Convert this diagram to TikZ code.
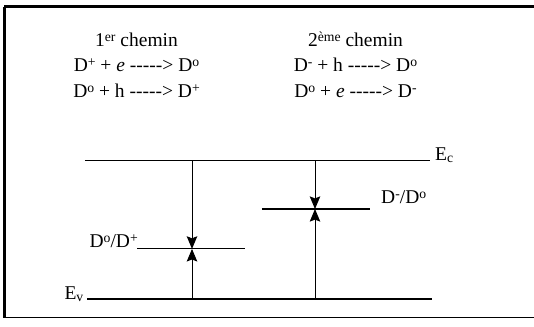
\documentclass[tikz,border=0pt]{standalone}
\usepackage{fontspec}
\setmainfont{Liberation Serif}
\usepackage{tikz}
\usetikzlibrary{arrows.meta, positioning}

% dashed reaction arrow, written so that no dash ligature is formed
\newcommand{\reac}{\mbox{-{}-{}-{}-{}->}}
% charge / ordinal exponent
\newcommand{\ex}[1]{\raisebox{0.55ex}{\fontsize{13}{13}\selectfont #1}}

\begin{document}
\begin{tikzpicture}[
		lvl/.style={line width=1.1pt},
		arr/.style={-{Stealth[length=12pt, width=10pt, inset=2pt]}, line width=0.9pt},
		lab/.style={inner sep=0pt, font=\fontsize{18.5}{22}\selectfont},
		txt/.style={lab, anchor=base}]
	\useasboundingbox (0,0) rectangle (17.8,10.867);
	% frame
	\draw[line width=2.2pt] (0.15,0.27) -- (0.15,10.65);
	\draw[line width=2.8pt] (0.15,10.65) -- (17.8,10.65);
	\draw[line width=0.8pt] (0.15,0.27) -- (17.8,0.27);
	% reactions
	\node[txt] (ch1) at (4.55,9.33) {1\ex{er} chemin};
	\node[txt] (r11) at (4.55,8.5) {D\ex{+} + \textit{e} \reac{} D\ex{o}};
	\node[txt] (r12) at (4.55,7.63) {D\ex{o} + h \reac{} D\ex{+}};
	\node[txt] (ch2) at (11.85,9.33) {2\ex{ème} chemin};
	\node[txt] (r21) at (11.85,8.5) {D\ex{-} + h \reac{} D\ex{o}};
	\node[txt] (r22) at (11.85,7.63) {D\ex{o} + \textit{e} \reac{} D\ex{-}};
	% bands and levels
	\coordinate (ecW) at (2.83,5.53);
	\coordinate (ecE) at (14.33,5.53);
	\coordinate (evW) at (2.9,0.9);
	\coordinate (evE) at (14.4,0.9);
	\coordinate (aW) at (4.57,2.57);
	\coordinate (aE) at (8.17,2.57);
	\coordinate (bW) at (8.73,3.9);
	\coordinate (bE) at (12.33,3.9);
	\draw[lvl] (ecW) -- (ecE);
	\draw[lvl] (evW) -- (evE);
	\draw[lvl] (aW) -- (aE);
	\draw[lvl] (bW) -- (bE);
	\node[lab, anchor=base west] (ec) at (14.5,5.53) {E\textsubscript{c}};
	\node[lab, anchor=base east] (ev) at (2.8,0.9) {E\textsubscript{v}};
	\node[lab, anchor=base east] (la) at (4.6,2.62) {D\ex{o}/D\ex{+}};
	\node[lab, anchor=base west] (lb) at (12.7,4.1) {D\ex{-}/D\ex{o}};
	% transitions
	\coordinate (ecA) at (6.4,5.53);
	\coordinate (lvA) at (6.4,2.57);
	\coordinate (evA) at (6.4,0.9);
	\coordinate (ecB) at (10.5,5.53);
	\coordinate (lvB) at (10.5,3.9);
	\coordinate (evB) at (10.5,0.9);
	\draw[arr] (ecA) -- (lvA);
	\draw[arr] (evA) -- (lvA);
	\draw[arr] (ecB) -- (lvB);
	\draw[arr] (evB) -- (lvB);
\end{tikzpicture}
\end{document}
